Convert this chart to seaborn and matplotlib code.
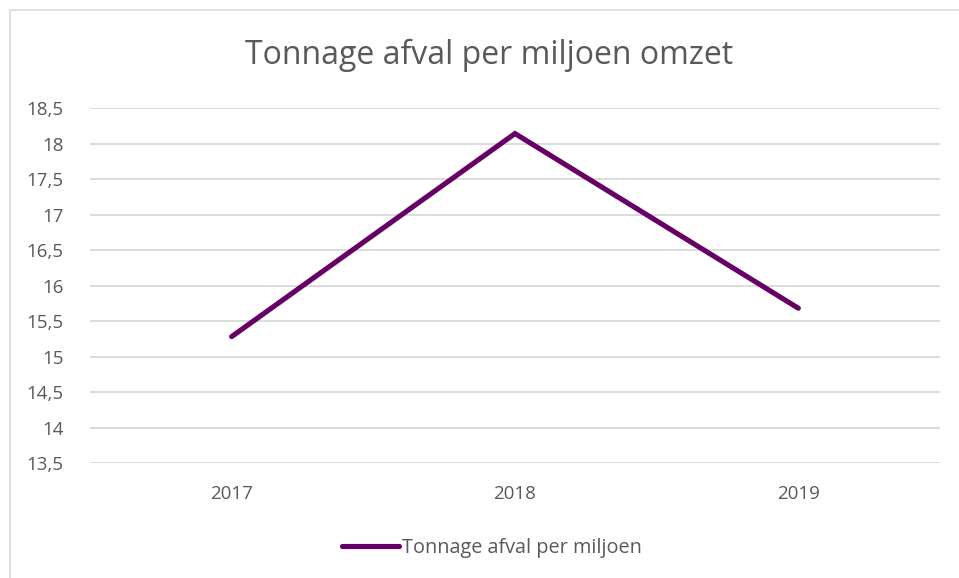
import pandas as pd
import numpy as np
import matplotlib
matplotlib.use("Agg")
import matplotlib.pyplot as plt
import seaborn as sns
from matplotlib.ticker import FuncFormatter
from matplotlib.patches import Rectangle

# data
years = ["2017", "2018", "2019"]
tonnage = [15.28, 18.14, 15.68]
series_name = "Tonnage afval per miljoen"

df = pd.DataFrame({"Jaar": years, "Tonnage": tonnage})

sns.set_theme(style="white")
plt.rcParams['font.family'] = ['Open Sans', 'DejaVu Sans']
txt_color = "#595959"
grid_color = "#d9d9d9"
line_color = "#660066"

fig = plt.figure(figsize=(9.59, 5.78), dpi=100)
ax = fig.add_axes([90/959, 1 - 463/578, 850/959, 355/578])

sns.lineplot(data=df, x="Jaar", y="Tonnage", ax=ax, color=line_color,
             linewidth=3.7, label=series_name, sort=False)
for l in ax.lines:
    l.set_solid_capstyle("round")
    l.set_solid_joinstyle("miter")

ax.set_xlim(-0.5, 2.5)
ax.set_ylim(13.5, 18.5)
ax.set_yticks(np.arange(13.5, 18.51, 0.5))
ax.yaxis.set_major_formatter(FuncFormatter(lambda v, p: ("%g" % v).replace(".", ",")))
ax.grid(axis="y", color=grid_color, linewidth=1.3)
ax.set_axisbelow(True)
for s in ax.spines.values():
    s.set_visible(False)
ax.tick_params(axis="both", colors=txt_color, labelsize=13.5, length=0)
ax.tick_params(axis="x", pad=16)
ax.tick_params(axis="y", pad=19)
ax.set_xlabel("")
ax.set_ylabel("")

fig.suptitle("Tonnage afval per miljoen omzet", x=489/959, y=1 - 55/578,
             va="center", fontsize=23, color=txt_color)

leg = ax.legend(loc="center", bbox_to_anchor=(492/959, 1 - 548/578),
                bbox_transform=fig.transFigure, frameon=False, fontsize=14.3,
                handlelength=2.9, handletextpad=0.15)
for t in leg.get_texts():
    t.set_color(txt_color)

# chart frame like the office chart border
fig.patches.append(Rectangle((9.5/959, -0.1), 1.2, 1 - 10.5/578 + 0.1,
                             transform=fig.transFigure, fill=False,
                             edgecolor=grid_color, linewidth=1.2))

fig.savefig("out.png", dpi=100)
